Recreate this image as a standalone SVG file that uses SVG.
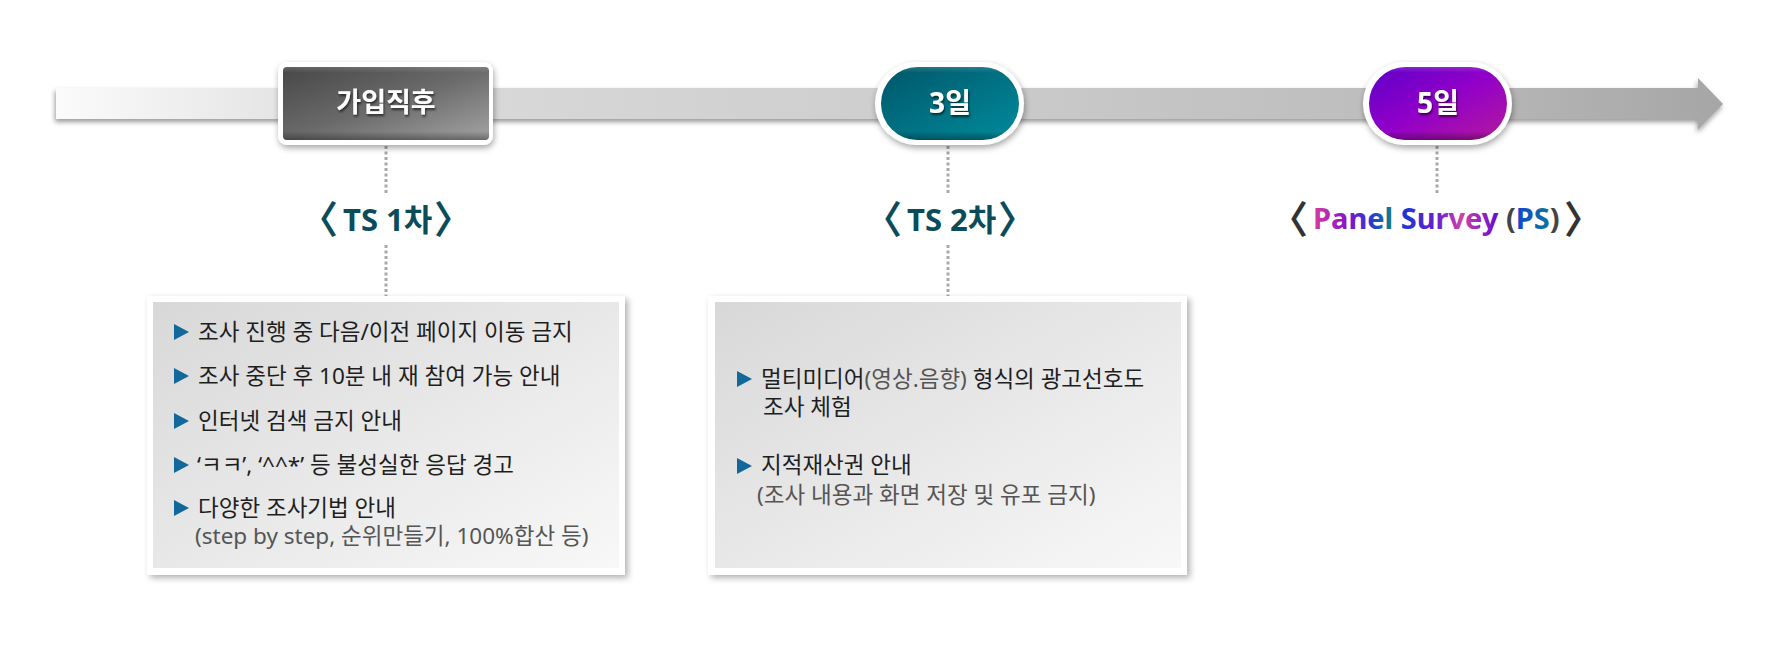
<svg xmlns="http://www.w3.org/2000/svg" width="1781" height="655" viewBox="0 0 1781 655">
<style>
  .kr { font-family: "Noto Sans", "Noto Sans CJK KR", sans-serif; }
  .node-t { font-family: "Noto Sans", "Noto Sans CJK KR", sans-serif; font-weight: 700; fill: #ffffff; text-anchor: middle; }
  .lbl { font-family: "Noto Sans", "Noto Sans CJK KR", sans-serif; font-weight: 700; fill: #0b4c5a; }
  .br { font-size: 38px; }
  .body { font-family: "Noto Sans", "Noto Sans CJK KR", sans-serif; font-size: 22.5px; fill: #1e1e1e; }
  .sub { fill: #555555; }
  .dot { stroke: #a9a9a9; stroke-width: 3; stroke-dasharray: 3 2.5; fill: none; }
  .bul { fill: #12679b; }
  .frame { fill: #ffffff; }
</style>
<defs>
  <linearGradient id="barG" gradientUnits="userSpaceOnUse" x1="56" y1="0" x2="1723" y2="0">
    <stop offset="0" stop-color="#fbfbfb"/>
    <stop offset="0.2" stop-color="#dadada"/>
    <stop offset="0.5" stop-color="#cecece"/>
    <stop offset="0.8" stop-color="#bdbdbd"/>
    <stop offset="1" stop-color="#a6a6a6"/>
  </linearGradient>
  <linearGradient id="darkG" x1="0" y1="0" x2="1" y2="1">
    <stop offset="0" stop-color="#474747"/>
    <stop offset="0.5" stop-color="#6a6a6a"/>
    <stop offset="1" stop-color="#a3a3a3"/>
  </linearGradient>
  <linearGradient id="tealG" x1="0" y1="0" x2="1" y2="1">
    <stop offset="0" stop-color="#00576a"/>
    <stop offset="1" stop-color="#008b9c"/>
  </linearGradient>
  <linearGradient id="purpG" x1="0" y1="0" x2="1" y2="1">
    <stop offset="0" stop-color="#5e00c8"/>
    <stop offset="0.5" stop-color="#9200c8"/>
    <stop offset="1" stop-color="#b41a9c"/>
  </linearGradient>
  <linearGradient id="bevel" x1="0" y1="0" x2="0" y2="1">
    <stop offset="0" stop-color="#ffffff" stop-opacity="0.15"/>
    <stop offset="0.08" stop-color="#ffffff" stop-opacity="0"/>
    <stop offset="0.88" stop-color="#000000" stop-opacity="0"/>
    <stop offset="1" stop-color="#000000" stop-opacity="0.35"/>
  </linearGradient>
  <linearGradient id="boxG" x1="0" y1="0" x2="1" y2="1">
    <stop offset="0" stop-color="#d8d8d8"/>
    <stop offset="1" stop-color="#f8f8f8"/>
  </linearGradient>
  <linearGradient id="gPanel" gradientUnits="userSpaceOnUse" x1="1313" y1="0" x2="1390" y2="0">
    <stop offset="0" stop-color="#d63e9c"/>
    <stop offset="0.45" stop-color="#8a10d0"/>
    <stop offset="0.75" stop-color="#2a3ad2"/>
    <stop offset="1" stop-color="#10788c"/>
  </linearGradient>
  <linearGradient id="gSurvey" gradientUnits="userSpaceOnUse" x1="1398" y1="0" x2="1496" y2="0">
    <stop offset="0" stop-color="#0a3ad8"/>
    <stop offset="0.4" stop-color="#6a20d0"/>
    <stop offset="0.65" stop-color="#d040a8"/>
    <stop offset="1" stop-color="#6a10d0"/>
  </linearGradient>
  <linearGradient id="gPS" gradientUnits="userSpaceOnUse" x1="1512" y1="0" x2="1552" y2="0">
    <stop offset="0" stop-color="#1040d8"/>
    <stop offset="1" stop-color="#107890"/>
  </linearGradient>
  <filter id="shBar" x="-5%" y="-50%" width="110%" height="200%">
    <feDropShadow dx="-1" dy="3" stdDeviation="2.5" flood-color="#000" flood-opacity="0.4"/>
  </filter>
  <filter id="shNode" x="-20%" y="-30%" width="140%" height="160%">
    <feDropShadow dx="1" dy="3" stdDeviation="3" flood-color="#000" flood-opacity="0.35"/>
  </filter>
  <filter id="shBox" x="-10%" y="-10%" width="120%" height="120%">
    <feDropShadow dx="3" dy="3" stdDeviation="3" flood-color="#000" flood-opacity="0.3"/>
  </filter>
  <filter id="shText" x="-10%" y="-20%" width="120%" height="150%">
    <feDropShadow dx="1" dy="2" stdDeviation="1" flood-color="#000" flood-opacity="0.6"/>
  </filter>
</defs>

<g id="timeline">
  <path d="M56,88 H1698 V78 L1723,104 L1698,130 V119 H56 Z" fill="url(#barG)" filter="url(#shBar)"/>
</g>

<g id="connectors">
  <line class="dot" x1="386" y1="146" x2="386" y2="194"/>
  <line class="dot" x1="386" y1="245" x2="386" y2="296"/>
  <line class="dot" x1="948" y1="146" x2="948" y2="194"/>
  <line class="dot" x1="948" y1="245" x2="948" y2="296"/>
  <line class="dot" x1="1437" y1="146" x2="1437" y2="194"/>
</g>

<g id="node-join">
  <rect class="frame" x="278" y="62" width="215" height="83" rx="9" filter="url(#shNode)"/>
  <rect x="283" y="67" width="206" height="73" rx="4" fill="url(#darkG)"/>
  <rect x="283" y="67" width="206" height="73" rx="4" fill="url(#bevel)"/>
  <text class="node-t" x="386" y="112" font-size="27" filter="url(#shText)">가입직후</text>
</g>

<g id="node-day3">
  <rect class="frame" x="875" y="62" width="149" height="83" rx="41.5" filter="url(#shNode)"/>
  <rect x="881" y="67" width="138" height="73" rx="36.5" fill="url(#tealG)"/>
  <rect x="881" y="67" width="138" height="73" rx="36.5" fill="url(#bevel)"/>
  <text class="node-t" x="950" y="113" font-size="28" filter="url(#shText)">3일</text>
</g>

<g id="node-day5">
  <rect class="frame" x="1363" y="62" width="149" height="83" rx="41.5" filter="url(#shNode)"/>
  <rect x="1369" y="67" width="138" height="73" rx="36.5" fill="url(#purpG)"/>
  <rect x="1369" y="67" width="138" height="73" rx="36.5" fill="url(#bevel)"/>
  <text class="node-t" x="1438" y="113" font-size="28" filter="url(#shText)">5일</text>
</g>

<g id="label-ts1">
  <text class="lbl" font-size="31" y="231"><tspan class="br" x="300" y="233">〈</tspan><tspan x="343" y="231">TS 1차</tspan><tspan class="br" x="434" y="233">〉</tspan></text>
</g>

<g id="label-ts2">
  <text class="lbl" font-size="31" y="231"><tspan class="br" x="864" y="233">〈</tspan><tspan x="907" y="231">TS 2차</tspan><tspan class="br" x="998" y="233">〉</tspan></text>
</g>

<g id="label-ps">
  <text class="kr" font-weight="700" font-size="29" y="229"><tspan class="br" x="1270" y="233" fill="#333333">〈</tspan><tspan x="1313" y="229" fill="url(#gPanel)">Panel</tspan> <tspan fill="url(#gSurvey)">Survey</tspan> <tspan fill="#444444">(</tspan><tspan fill="url(#gPS)">PS</tspan><tspan fill="#444444">)</tspan><tspan class="br" x="1564" y="233" fill="#333333">〉</tspan></text>
</g>

<g id="box-ts1">
  <rect class="frame" x="147" y="296" width="478" height="279" filter="url(#shBox)"/>
  <rect x="153" y="302" width="466" height="266" fill="url(#boxG)"/>
  <polygon class="bul" points="174,324 189,332 174,340"/>
  <polygon class="bul" points="174,368 189,376 174,384"/>
  <polygon class="bul" points="174,413 189,421 174,429"/>
  <polygon class="bul" points="174,457 189,465 174,473"/>
  <polygon class="bul" points="174,500 189,508 174,516"/>
  <text class="body" x="198" y="340">조사 진행 중 다음/이전 페이지 이동 금지</text>
  <text class="body" x="198" y="384">조사 중단 후 10분 내 재 참여 가능 안내</text>
  <text class="body" x="198" y="429">인터넷 검색 금지 안내</text>
  <text class="body" x="197" y="473">‘ㅋㅋ’, ‘^^*’ 등 불성실한 응답 경고</text>
  <text class="body" x="198" y="516">다양한 조사기법 안내</text>
  <text class="body sub" x="195" y="544">(step by step, 순위만들기, 100%합산 등)</text>
</g>

<g id="box-ts2">
  <rect class="frame" x="708" y="296" width="479" height="279" filter="url(#shBox)"/>
  <rect x="715" y="302" width="466" height="266" fill="url(#boxG)"/>
  <polygon class="bul" points="737,371 752,379 737,387"/>
  <polygon class="bul" points="737,458 752,466 737,474"/>
  <text class="body" x="761" y="387">멀티미디어<tspan class="sub">(영상.음향)</tspan> 형식의 광고선호도</text>
  <text class="body" x="763" y="415">조사 체험</text>
  <text class="body" x="761" y="473">지적재산권 안내</text>
  <text class="body sub" x="757" y="503">(조사 내용과 화면 저장 및 유포 금지)</text>
</g>
</svg>
